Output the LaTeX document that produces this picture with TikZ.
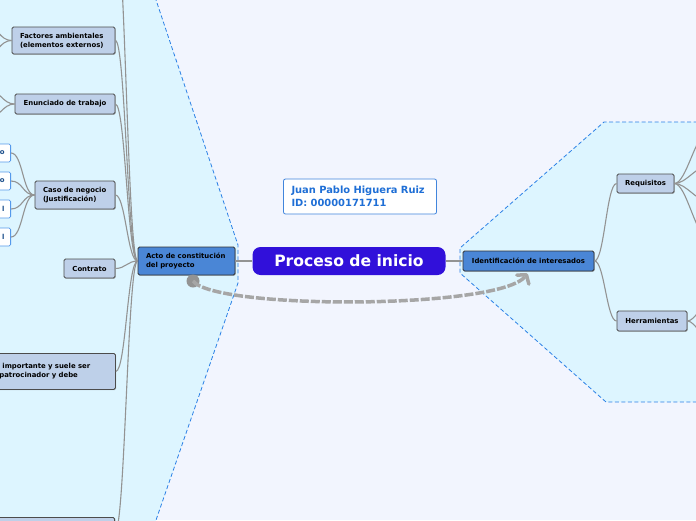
\documentclass[tikz,border=0pt]{standalone}
\usepackage{fontspec}
\setmainfont{DejaVu Sans}
\usetikzlibrary{arrows.meta,shadows}
\definecolor{bgpale}{HTML}{F2F5FE}
\definecolor{zonecyan}{HTML}{DDF5FF}
\definecolor{zoneline}{HTML}{2A80E6}
\definecolor{rootblue}{HTML}{3110DA}
\definecolor{mainblue}{HTML}{4A86D6}
\definecolor{subblue}{HTML}{BED0E9}
\definecolor{linegray}{HTML}{939393}
\definecolor{relgray}{HTML}{A6A6A6}
\definecolor{nameblue}{HTML}{1F6FD6}
\begin{document}
\begin{tikzpicture}[x=1pt, y=-1pt,
    topic/.style={draw=black!80, fill=mainblue, rounded corners=1.5pt, line width=.8pt,
      font=\fontsize{6.9}{8.8}\bfseries\selectfont, align=left, inner sep=0pt,
      drop shadow={shadow xshift=.8pt, shadow yshift=-.8pt, opacity=.45}},
    subtopic/.style={topic, fill=subblue, draw=black!70},
    leaf/.style={draw=zoneline!80, fill=white, rounded corners=1.5pt, line width=.8pt,
      text=zoneline!60!black, font=\fontsize{6.9}{8.8}\bfseries\selectfont,
      minimum height=18, text width=30pt, inner xsep=6pt, align=right, anchor=east},
    branch/.style={draw=linegray, line width=1.1pt},
    zone/.style={fill=zonecyan, draw=zoneline, dash pattern=on 4pt off 2.5pt, line width=.8pt}]
  \useasboundingbox (0,0) rectangle (696,520);
  \clip (0,0) rectangle (696,520);
  \fill[bgpale] (0,0) rectangle (696,520);
  % boundaries
  \draw[zone] (155,-3) -- (238,245) -- (238,283) -- (155,523) -- (-5,523) -- (-5,-3) -- cycle;
  \draw[zone] (704,122) -- (604,122) -- (460,248) -- (460,273) -- (606,402) -- (704,402) -- cycle;
  % central topic and main topics
  \node[draw=none, fill=rootblue, text=white, rounded corners=8pt, minimum width=193, minimum height=28,
    font=\fontsize{15.6}{18}\bfseries\selectfont] (root) at (349,261) {Proceso de inicio};
  \node[draw=nameblue!85, fill=white, text=nameblue, rounded corners=2pt, line width=.8pt, align=left,
    text width=137pt, inner xsep=8pt, minimum height=35, font=\fontsize{9.9}{12.5}\bfseries\selectfont]
    (author) at (360,196.5) {Juan Pablo Higuera Ruiz\\ID: 00000171711};
  \node[topic, minimum height=28, text width=81pt, inner xsep=8pt] (acto) at (186.5,261)
    {Acto de constitución\\del proyecto};
  \node[topic, minimum width=131, minimum height=20, align=center] (ident) at (528.5,261)
    {Identificación de interesados};
  % left subtopics
  \node[subtopic, minimum height=27, text width=87pt, inner xsep=8pt] (factores) at (63.5,40.5)
    {Factores ambientales\\(elementos externos)};
  \node[subtopic, minimum width=100, minimum height=20, align=center] (enunciado) at (65,104)
    {Enunciado de trabajo};
  \node[subtopic, minimum height=28, text width=64pt, inner xsep=8pt] (caso) at (75,195)
    {Caso de negocio\\(Justificación)};
  \node[subtopic, minimum width=51, minimum height=19, align=center] (contrato) at (89.5,268.5)
    {Contrato};
  \node[subtopic, anchor=north west, minimum height=36, text width=113pt, inner xsep=3pt] (patro) at (-4,353)
    {\hspace*{3pt}importante y suele ser\\patrocinador y debe};
  \node[subtopic, anchor=north east, minimum width=130, minimum height=30] (lastsub) at (115,517) {};
  \coordinate (topsub) at (115,-80);
  % leaves of caso de negocio
  \node[leaf] (leafa) at (11,153) {o};
  \node[leaf] (leafb) at (11,181) {o};
  \node[leaf] (leafc) at (11,209) {l};
  \node[leaf] (leafd) at (11,237) {l};
  % right subtopics
  \node[subtopic, minimum width=57, minimum height=19, align=center] (requisitos) at (645.5,183.5)
    {Requisitos};
  \node[subtopic, minimum width=70, minimum height=20, align=center] (herram) at (652,321)
    {Herramientas};
  % off-page children
  \coordinate (fa) at (-14,26);  \coordinate (fb) at (-14,55);
  \coordinate (ea) at (-12,90);  \coordinate (eb) at (-12,118);
  \coordinate (ra) at (708,132); \coordinate (rb) at (708,166);
  \coordinate (rc) at (708,201); \coordinate (rd) at (708,238);
  \coordinate (ha) at (712,300); \coordinate (hb) at (712,342);
  % connectors
  \draw[branch] (root.west) -- (acto.east);
  \draw[branch] (root.east) -- (ident.west);
  \foreach \kid in {topsub, factores, enunciado, caso, contrato, patro, lastsub}
    \draw[branch] (acto.west) .. controls +(-10,0) and +(10,0) .. (\kid.east);
  \foreach \kid in {requisitos, herram}
    \draw[branch] (ident.east) .. controls +(10,0) and +(-10,0) .. (\kid.west);
  \foreach \lf in {leafa, leafb, leafc, leafd}
    \draw[branch] (caso.west) .. controls +(-12,0) and +(12,0) .. (\lf.east);
  \foreach \o in {fa, fb}
    \draw[branch] (factores.west) .. controls +(-12,0) and +(12,0) .. (\o);
  \foreach \o in {ea, eb}
    \draw[branch] (enunciado.west) .. controls +(-12,0) and +(12,0) .. (\o);
  \foreach \o in {ra, rb, rc, rd}
    \draw[branch] (requisitos.east) .. controls +(12,0) and +(-12,0) .. (\o);
  \foreach \o in {ha, hb}
    \draw[branch] (herram.east) .. controls +(8,0) and +(-8,0) .. (\o);
  % relation
  \node[circle, fill=linegray, inner sep=0pt, minimum size=13] (reldot) at (193,281) {};
  \draw[draw=relgray, line width=3.5pt, dash pattern=on 9pt off 2pt,
    -{Straight Barb[round, length=6pt, width=15pt]}]
    (reldot.center) .. controls +(22,29) and +(-27,36) .. ([xshift=-1pt, yshift=-2pt]ident.south);
\end{tikzpicture}
\end{document}
